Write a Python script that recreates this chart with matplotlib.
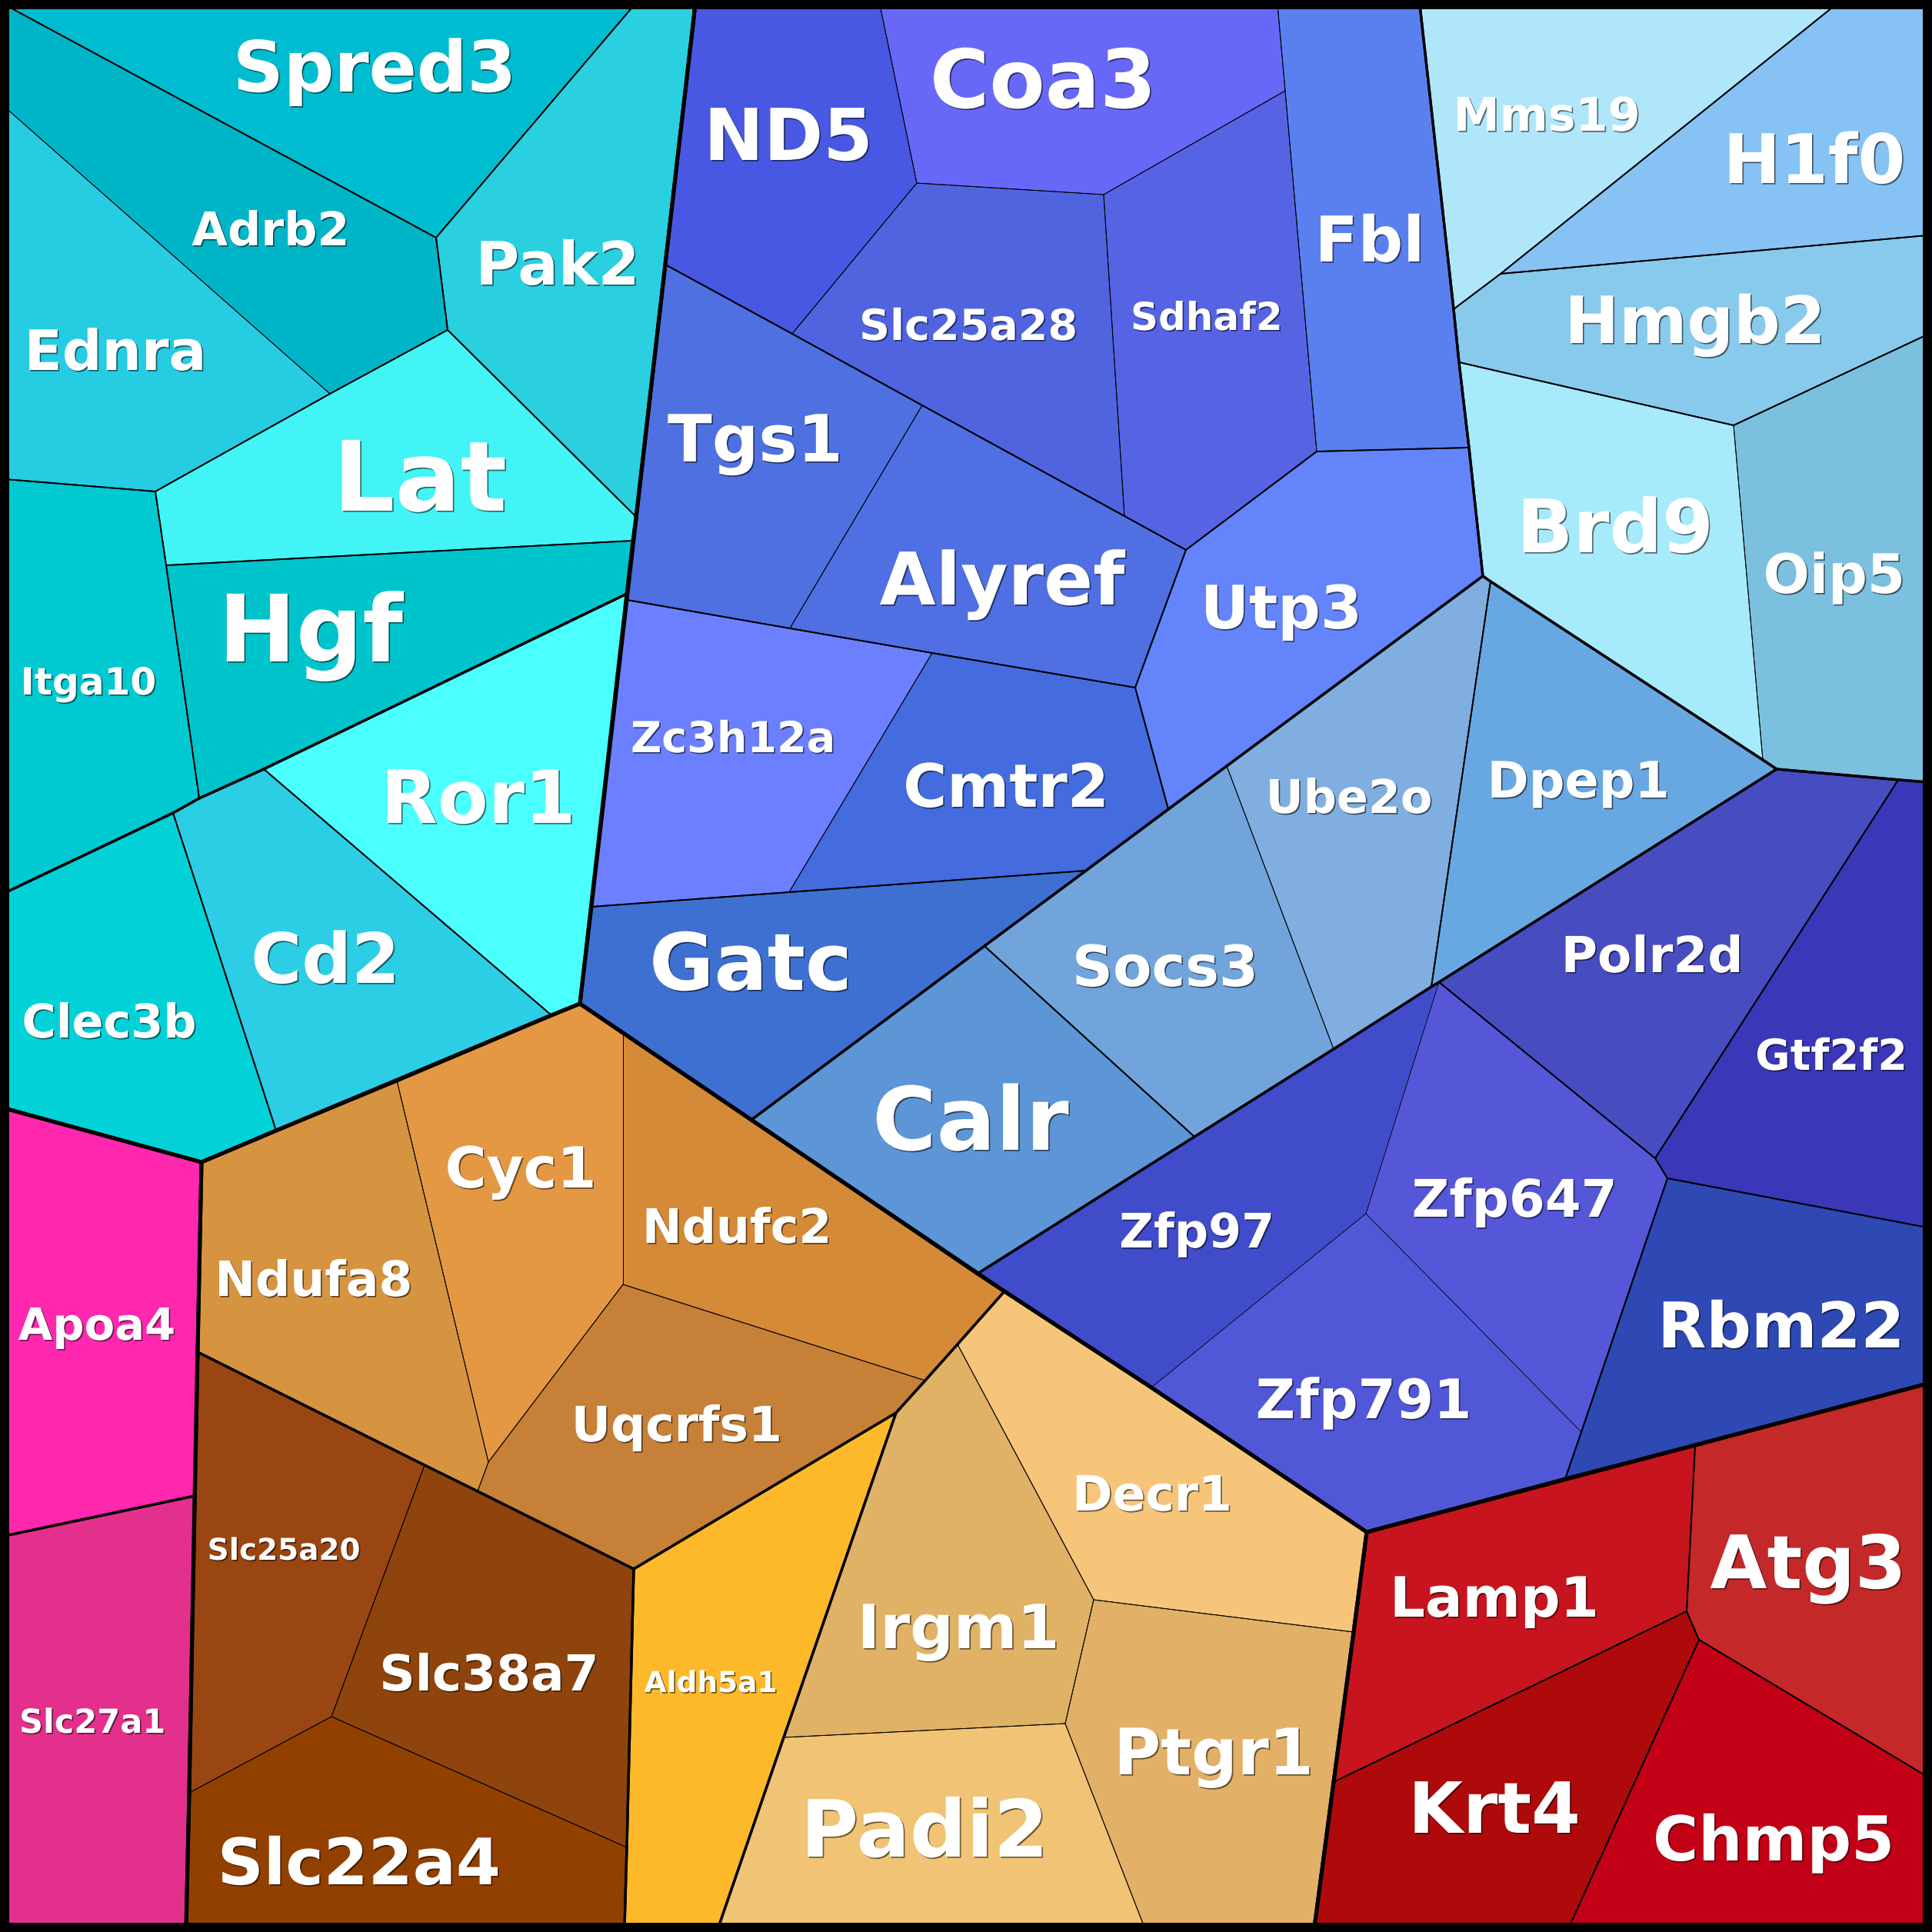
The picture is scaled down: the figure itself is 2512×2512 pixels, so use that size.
import matplotlib
matplotlib.use("Agg")
import matplotlib.pyplot as plt
from matplotlib.path import Path
from matplotlib.collections import PolyCollection, LineCollection
import matplotlib.patheffects as pe
import numpy as np

# ---------------- data: shared Voronoi-treemap vertices (pixel space 0..2512) ----------------
VERTS = {
    "c0": (6, 6), "s1": (825, 6), "t0": (904, 6), "n1": (1144, 6), "f0": (1661, 6),
    "m0": (1846, 6), "h0": (2387, 6), "c1": (2506, 6), "c2": (2506, 2506), "c3": (6, 2506),
    # cyan
    "A": (567, 309), "Bv": (582, 429), "C": (429, 512), "D": (202, 639), "E": (6, 139),
    "F": (6, 623), "G": (827, 672), "H": (216, 735), "I": (823, 703), "J": (815, 772),
    "Lv": (343, 1000), "K": (259, 1038), "M": (225, 1057), "N": (6, 1161), "S": (754, 1305),
    "O": (717, 1320), "P": (359, 1470), "Q": (262, 1511), "Rv": (6, 1441),
    # blue
    "b1": (1192, 238), "b2": (1435, 253), "b3": (1671, 118), "b4": (1030, 434), "b5": (865, 344),
    "b6": (1199, 527), "b7": (1462, 671), "b8": (1542, 715), "b9": (1712, 587), "b10": (1910, 582),
    "b11": (1928, 749), "b12": (815, 780), "b13": (1027, 817), "b14": (1212, 849), "b15": (1476, 894),
    "b16": (1026, 1160), "b17": (769, 1179), "b18": (1519, 1052), "b19": (1412, 1132), "b20": (977, 1456),
    # light blue
    "v1": (1951, 356), "v2": (1890, 402), "v3": (2506, 306), "v4": (1897, 471), "v5": (2254, 553),
    "v6": (2506, 435), "v7": (2292, 988), "X": (2310, 1000), "v8": (2506, 1017),
    # steel
    "u0": (1938, 756), "Y1": (1595, 996), "u1": (1861, 1283), "u2": (1734, 1364), "u3": (1280, 1230),
    "u4": (1553, 1478), "Z": (1271, 1656),
    # indigo
    "g0": (2468, 1014), "g1": (2152, 1506), "g2": (2168, 1532), "g3": (2506, 1596), "W1": (1871, 1277),
    "w2": (1776, 1578), "zz": (1497, 1804), "w3": (2056, 1862), "w4": (2035, 1923), "r0": (2506, 1799),
    "K1": (1306, 1679), "T2": (1777, 1992),
    # pink / orange
    "p1": (253, 1945), "p2": (6, 1997), "p3": (242, 2506), "o1": (257, 1758), "o2": (246, 2331),
    "t1": (516, 1405), "t2": (810, 1343), "t3": (810, 1670), "t4": (635, 1901), "t5": (621, 1939),
    "t6": (824, 2040), "t7": (1203, 1795), "t8": (1165, 1837), "o3": (552, 1905), "o4": (431, 2232),
    "o5": (815, 2402), "y0": (812, 2506), "y1": (934, 2506),
    "l1": (1245, 1748), "l2": (1422, 2080), "l3": (1760, 2122), "l4": (1019, 2259), "l5": (1385, 2241),
    "l6": (1488, 2506), "e0": (1709, 2506),
    # red
    "r1": (2204, 1879), "r2": (1734, 2317), "r3": (2193, 2095), "r4": (2209, 2132), "r5": (2040, 2506),
    "r6": (2506, 2310),
}

CELL_NAMES = ["Spred3", "Adrb2", "Pak2", "Ednra", "Lat", "Hgf", "Itga10", "Ror1", "Cd2", "Clec3b",
              "ND5", "Coa3", "Fbl", "Slc25a28", "Sdhaf2", "Tgs1", "Alyref", "Utp3", "Zc3h12a", "Cmtr2", "Gatc",
              "Mms19", "H1f0", "Hmgb2", "Brd9", "Oip5",
              "Ube2o", "Dpep1", "Socs3", "Calr",
              "Polr2d", "Gtf2f2", "Zfp647", "Zfp97", "Zfp791", "Rbm22",
              "Apoa4", "Slc27a1",
              "Ndufa8", "Cyc1", "Ndufc2", "Uqcrfs1", "Slc25a20", "Slc38a7", "Slc22a4", "Aldh5a1",
              "Irgm1", "Decr1", "Ptgr1", "Padi2",
              "Lamp1", "Atg3", "Krt4", "Chmp5"]

CELL_POLYS = [
    ["c0", "s1", "A"], ["c0", "A", "Bv", "C", "E"], ["s1", "t0", "G", "Bv", "A"], ["E", "C", "D", "F"],
    ["D", "C", "Bv", "G", "I", "H"], ["H", "I", "J", "Lv", "K"], ["F", "D", "H", "K", "M", "N"],
    ["J", "S", "O", "Lv"], ["Lv", "O", "P", "M", "K"], ["N", "M", "P", "Q", "Rv"],
    ["t0", "n1", "b1", "b4", "b5"], ["n1", "f0", "b3", "b2", "b1"], ["f0", "m0", "v2", "v4", "b10", "b9", "b3"],
    ["b1", "b2", "b7", "b6", "b4"], ["b2", "b3", "b9", "b8", "b7"], ["b5", "b4", "b6", "b13", "b12"],
    ["b6", "b7", "b8", "b15", "b14", "b13"], ["b8", "b9", "b10", "b11", "Y1", "b18", "b15"],
    ["b12", "b13", "b14", "b16", "b17"], ["b14", "b15", "b18", "b19", "b16"],
    ["b17", "b16", "b19", "u3", "b20", "S"],
    ["m0", "h0", "v1", "v2"], ["h0", "c1", "v3", "v1"], ["v2", "v1", "v3", "v6", "v5", "v4"],
    ["v4", "v5", "v7", "u0", "b11", "b10"], ["v5", "v6", "v8", "X", "v7"],
    ["b11", "u0", "u1", "u2", "Y1"], ["u0", "v7", "X", "W1", "u1"], ["Y1", "u2", "u4", "u3"],
    ["u3", "u4", "Z", "b20"],
    ["X", "g0", "g1", "W1"], ["g0", "v8", "g3", "g2", "g1"], ["W1", "g1", "g2", "w3", "w2"],
    ["Z", "u4", "u2", "u1", "W1", "w2", "zz", "K1"], ["zz", "w2", "w3", "w4", "T2"],
    ["g2", "g3", "r0", "r1", "w4", "w3"],
    ["Rv", "Q", "p1", "p2"], ["p2", "p1", "o2", "p3", "c3"],
    ["Q", "P", "t1", "t4", "t5", "o3", "o1"], ["t1", "O", "S", "t2", "t3", "t4"], ["t2", "K1", "t7", "t3"],
    ["t3", "t7", "t8", "t6", "t5", "t4"], ["o1", "o3", "o4", "o2"], ["o3", "t5", "t6", "o5", "o4"],
    ["o2", "o4", "o5", "y0", "p3"], ["t6", "t8", "l4", "y1", "y0", "o5"],
    ["t8", "l1", "l2", "l5", "l4"], ["l1", "K1", "zz", "T2", "l3", "l2"], ["l2", "l3", "r2", "e0", "l6", "l5"],
    ["l4", "l5", "l6", "y1"],
    ["T2", "r1", "r3", "r2", "l3"], ["r1", "r0", "r6", "r4", "r3"], ["r2", "r3", "r4", "r5", "e0"],
    ["r4", "r6", "c2", "r5"],
]

CELL_COLORS = ["#00BCD0", "#00B5C8", "#2ACFE0", "#26CCE2", "#42F4F6", "#00C4CC", "#00C9D2", "#4CFFFF", "#2CCEE6", "#03D1D8",
               "#4858E2", "#6868F8", "#5A80F0", "#5064E0", "#5664E4", "#4F70E0", "#4F6FE2", "#6484FC", "#6C80FF", "#446CDE", "#3E70D2",
               "#B0E6FA", "#86C2F4", "#88CAEC", "#A6EAFC", "#7CC0E0",
               "#80AEE0", "#68A8E2", "#70A4DA", "#5C96D6",
               "#474DC0", "#3A38B8", "#5656D8", "#404CCA", "#5058D8", "#2E48B4",
               "#FF28AE", "#E2308C",
               "#D69440", "#E49844", "#D48A36", "#C68038", "#9A4612", "#8E440C", "#924000", "#FDB92A",
               "#E0B266", "#F6C57A", "#E2B066", "#F0C474",
               "#C8141E", "#C42828", "#AE0A0C", "#C20016"]

CELL_GROUPS = ["C/top/spred3", "C/top/ae/adrb2", "C/top/pak2", "C/top/ae/ednra", "C/top/lat", "C/top/hgf",
               "C/top/itga10", "C/bot/ror1", "C/bot/cd2", "C/bot/clec3b",
               "B/bl/b1/nd5", "B/bl/b1/coa3", "B/bl/b1/fbl", "B/bl/b1/slc25a28", "B/bl/b1/sdhaf2",
               "B/bl/b2/tgs1", "B/bl/b2/alyref", "B/bl/b3/utp3", "B/bl/b4/zc3h12a", "B/bl/b4/cmtr2", "B/bl/b5/gatc",
               "B/lb/mms19", "B/lb/h1f0", "B/lb/hmgb2", "B/lb/bo/brd9", "B/lb/bo/oip5",
               "B/st/us/ube2o", "B/st/dpep1", "B/st/us/socs3", "B/st/calr",
               "B/in/polr2d", "B/in/gtf2f2", "B/in/z/x/zfp647", "B/in/z/x/zfp97", "B/in/z/x/zfp791", "B/in/rbm22",
               "P/apoa4", "P/slc27a1",
               "O/tan/x/ndufa8", "O/tan/x/cyc1", "O/tan/x/ndufc2", "O/tan/x/uqcrfs1",
               "O/br/x/slc25a20", "O/br/x/slc38a7", "O/br/x/slc22a4", "O/yl/aldh5a1",
               "O/lo/x/irgm1", "O/lo/x/decr1", "O/lo/x/ptgr1", "O/lo/x/padi2",
               "R/r/lamp1", "R/r/atg3", "R/r/krt4", "R/r/chmp5"]

LABEL_SIZES = [66, 43.5, 56, 52, 91, 87, 35, 69, 65, 43.5,
               67, 76, 59, 40, 36, 61, 68, 56, 40, 56, 74,
               43.5, 64, 61, 69, 51,
               43.5, 47, 53, 82,
               46.5, 40, 48.5, 44.5, 51, 59,
               41.5, 31,
               45.5, 53, 44.5, 45.5, 28, 46.5, 60, 27,
               57, 45.5, 60, 74,
               52, 69, 66, 58]
LABEL_X = [487, 352, 725, 150, 546, 404, 115, 622, 423, 142,
           1025, 1356, 1781, 1259, 1569, 982, 1303, 1666, 953, 1308, 976,
           2011, 2359, 2204, 2100, 2385,
           1754, 2052, 1515, 1262,
           2148, 2381, 1969, 1556, 1773, 2316,
           126, 120,
           408, 677, 958, 880, 369, 636, 467, 924,
           1246, 1498, 1578, 1202,
           1943, 2351, 1943, 2306]
LABEL_BASE = [119, 319, 370, 481, 664, 860, 903, 1070, 1278, 1349,
              208, 140, 340, 442, 429, 600, 786, 817, 978, 1049, 1287,
              170, 238, 446, 718, 771,
              1057, 1037, 1282, 1495,
              1264, 1391, 1582, 1622, 1844, 1752,
              1742, 2253,
              1685, 1544, 1616, 1874, 2028, 2198, 2450, 2200,
              2143, 1964, 2307, 2414,
              2102, 2065, 2383, 2419]

LEVEL_WIDTHS_PX = [5.0, 3.3, 1.8, 0.9, 0.5]
FRAME_PX = 12
SIZE = 2512

# ---------------- drawing ----------------
fig = plt.figure(figsize=(25.12, 25.12), dpi=100, facecolor="black")
ax = fig.add_axes([0, 0, 1, 1])
ax.set_xlim(0, SIZE)
ax.set_ylim(SIZE, 0)
ax.axis("off")

polys = [np.array([VERTS[k] for k in cell], dtype=float) for cell in CELL_POLYS]
paths = [Path(p) for p in polys]
groups = [g.split("/") for g in CELL_GROUPS]

ax.add_collection(PolyCollection(polys, facecolors=CELL_COLORS, edgecolors="none", zorder=1))

px2pt = 72.0 / fig.dpi
segs, widths = [], []
for i, poly in enumerate(polys):
    n = len(poly)
    for k in range(n):
        a, b = poly[k], poly[(k + 1) % n]
        d = b - a
        L = np.hypot(*d)
        if L < 1e-6:
            continue
        nrm = np.array([-d[1], d[0]]) / L
        m = (a + b) / 2
        cand = [m + 3 * nrm, m - 3 * nrm]
        inside = [paths[i].contains_point(c) for c in cand]
        if inside[0] == inside[1]:
            out = cand[0]
        else:
            out = cand[1] if inside[0] else cand[0]
        j = next((jj for jj in range(len(paths)) if jj != i and paths[jj].contains_point(out)), None)
        if j is None:
            continue
        gi, gj = groups[i], groups[j]
        kk = 0
        while kk < min(len(gi), len(gj)) - 1 and gi[kk] == gj[kk]:
            kk += 1
        w = LEVEL_WIDTHS_PX[min(kk, len(LEVEL_WIDTHS_PX) - 1)]
        segs.append([a, b])
        widths.append(w)

order = np.argsort(widths, kind="stable")
ax.add_collection(LineCollection([segs[o] for o in order],
                                 linewidths=[widths[o] * px2pt for o in order],
                                 colors="black", capstyle="round", joinstyle="round", zorder=2))

# frame
ax.add_patch(plt.Rectangle((FRAME_PX / 2, FRAME_PX / 2), SIZE - FRAME_PX, SIZE - FRAME_PX,
                           fill=False, edgecolor="black", linewidth=FRAME_PX * px2pt, zorder=3,
                           joinstyle="miter"))

shadow = [pe.SimplePatchShadow(offset=(1.2, -1.2), shadow_rgbFace="black", alpha=0.55), pe.Normal()]
for name, x, yb, fs in zip(CELL_NAMES, LABEL_X, LABEL_BASE, LABEL_SIZES):
    ax.text(x, yb, name, ha="center", va="baseline", fontsize=fs, fontweight="bold",
            family="DejaVu Sans", color="white", path_effects=shadow, zorder=4)

fig.savefig("out.png", dpi=100, facecolor="black")
